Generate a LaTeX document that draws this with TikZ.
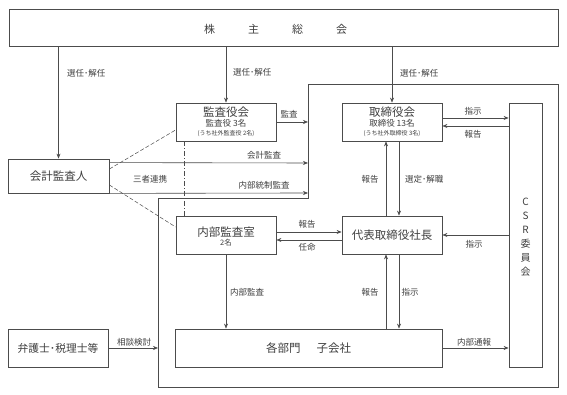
\documentclass[tikz,border=0pt]{standalone}
\usepackage{fontspec}
\setmainfont{Noto Sans CJK JP}
\usetikzlibrary{arrows.meta}
\definecolor{lc}{gray}{0.3}
\definecolor{tc}{gray}{0.25}
\begin{document}
\begin{tikzpicture}[x=1pt,y=1pt,
  box/.style={draw=lc, line width=0.8pt, fill=white, inner sep=0pt},
  arr/.style={draw=lc, line width=0.6pt, -{Stealth[length=5pt,width=4pt]}},
  lbl/.style={font=\fontsize{8.5}{9}\selectfont, text=tc, inner sep=0pt},
  ttl/.style={font=\fontsize{11.5}{13}\selectfont, text=tc, inner sep=0pt},
  sub/.style={font=\fontsize{8.5}{9}\selectfont, text=tc, inner sep=0pt},
  tiny/.style={font=\fontsize{6}{7}\selectfont, text=tc, inner sep=0pt},
  dsh/.style={draw=lc, line width=0.5pt, dash pattern=on 4pt off 2pt},
  dshdot/.style={draw=lc, line width=0.5pt, dash pattern=on 5pt off 2pt on 1pt off 2pt},
]
\useasboundingbox (0,0) rectangle (567,395);
\fill[white] (0,0) rectangle (567,395);

% frame
\draw[lc, line width=0.7pt] (308,311) -- (558,311) -- (558,8) -- (158,8) -- (158,197) -- (308,197) -- cycle;
\coordinate (fr-kansa) at (308,273);
\coordinate (fr-kaikei1) at (308,232);
\coordinate (fr-kaikei2) at (308,202);
\coordinate (fr-bengo) at (158,47);

% boxes
\node[box, minimum width=549, minimum height=37] (top) at (283.5,367.5) {};
\node[box, minimum width=100, minimum height=38] (kansa) at (226,273) {};
\node[box, minimum width=100, minimum height=38] (tori) at (392,273) {};
\node[box, minimum width=33, minimum height=264] (csr) at (525.5,160) {};
\node[box, minimum width=100, minimum height=38] (daihyo) at (392,160) {};
\node[box, minimum width=100, minimum height=38] (naibu) at (226,160) {};
\node[box, minimum width=267, minimum height=38] (kakubu) at (308.5,47) {};
\node[box, minimum width=100, minimum height=38] (bengo) at (58,47) {};
\node[box, minimum width=101, minimum height=34] (kaikei) at (58.5,219) {};

% box texts
\node[ttl, font=\fontsize{11}{13}\selectfont] (top-t) at (275.5,366) {株\hspace{33pt}主\hspace{33pt}総\hspace{33pt}会};
\node[ttl] (kansa-t) at (226,283) {監査役会};
\node[sub] (kansa-s) at (226,272) {監査役 3名};
\node[tiny] (kansa-u) at (226,261) {(うち社外監査役 2名)};
\node[ttl] (tori-t) at (392,283) {取締役会};
\node[sub] (tori-s) at (392,272) {取締役 13名};
\node[tiny] (tori-u) at (392,261) {(うち社外取締役 3名)};
\node[ttl] (naibu-t) at (226,163) {内部監査室};
\node[sub, font=\fontsize{7.5}{8}\selectfont] (naibu-s) at (226,152) {2名};
\node[ttl] (daihyo-t) at (daihyo.center) {代表取締役社長};
\node[ttl] (kakubu-t) at (kakubu.center) {各部門\hspace{16pt}子会社};
\node[ttl] (kaikei-t) at (kaikei.center) {会計監査人};
\node[ttl, font=\fontsize{10.75}{13}\selectfont] (bengo-t) at (bengo.center) {弁護士･税理士等};
\node[ttl, font=\fontsize{10}{14}\selectfont, align=center] (csr-t) at (525.5,158) {C\\S\\R\\委\\員\\会};

% arrows from top
\draw[arr] (top.south -| kaikei.north) -- (kaikei.north);
\draw[arr] (top.south -| kansa.north) -- (kansa.north);
\draw[arr] (top.south -| tori.north) -- (tori.north);
\node[lbl, anchor=west] (l1) at (67,322) {選任･解任};
\node[lbl, anchor=west] (l2) at (233,323) {選任･解任};
\node[lbl, anchor=west] (l3) at (400,322) {選任･解任};

% kansa -> frame
\draw[arr] (kansa.east) -- (fr-kansa);
\node[lbl] (l-kansa) at (289,281) {監査};

% kaikei -> frame
\draw[arr] ([yshift=-4]kaikei.north east) -- (fr-kaikei1);
\draw[arr] (kaikei.south east) -- (fr-kaikei2);
\node[lbl] (l-kaikei) at (264,240) {会計監査};
\node[lbl] (l-naibutosei) at (264,210) {内部統制監査};

% sansha renkei
\draw[dsh] ([yshift=7]kaikei.east) -- ([yshift=-8]kansa.west);
\draw[dsh] ([yshift=-9]kaikei.east) -- ([yshift=8]naibu.west);
\draw[dshdot] ([xshift=-42]kansa.south) -- ([xshift=-42]naibu.north);
\node[lbl] (l-sansha) at (150,216) {三者連携};

% tori <-> csr
\draw[arr] ([yshift=4]tori.east) -- ([yshift=4]tori.east -| csr.west);
\draw[arr] ([yshift=-4]tori.east -| csr.west) -- ([yshift=-4]tori.east);
\node[lbl] (l-ts1) at (473,284) {指示};
\node[lbl] (l-ts2) at (473,261) {報告};

% tori <-> daihyo
\draw[arr] ([xshift=-6]daihyo.north) -- ([xshift=-6]tori.south);
\draw[arr] ([xshift=7]tori.south) -- ([xshift=7]daihyo.north);
\node[lbl] (l-td1) at (370,216) {報告};
\node[lbl, anchor=west] (l-td2) at (405,216) {選定･解職};

% naibu <-> daihyo
\draw[arr] ([yshift=3]naibu.east) -- ([yshift=3]daihyo.west);
\draw[arr] ([yshift=-5]daihyo.west) -- ([yshift=-5]naibu.east);
\node[lbl] (l-nd1) at (307,171) {報告};
\node[lbl] (l-nd2) at (307,148) {任命};

% csr -> daihyo
\draw[arr] (csr.west) -- (daihyo.east);
\node[lbl] (l-cd) at (474,151) {指示};

% daihyo <-> kakubu
\draw[arr] ([xshift=-6]daihyo.south |- kakubu.north) -- ([xshift=-6]daihyo.south);
\draw[arr] ([xshift=7]daihyo.south) -- ([xshift=7]daihyo.south |- kakubu.north);
\node[lbl] (l-dk1) at (370,103) {報告};
\node[lbl] (l-dk2) at (410,103) {指示};

% naibu -> kakubu
\draw[arr] (naibu.south) -- (naibu.south |- kakubu.north);
\node[lbl, anchor=west] (l-nk) at (230,103) {内部監査};

% bengo -> frame
\draw[arr] (bengo.east) -- (fr-bengo);
\node[lbl] (l-bengo) at (134,53) {相談検討};

% kakubu -> csr
\draw[arr] (kakubu.east) -- (kakubu.east -| csr.west);
\node[lbl] (l-kc) at (474,53) {内部通報};
\end{tikzpicture}
\end{document}
